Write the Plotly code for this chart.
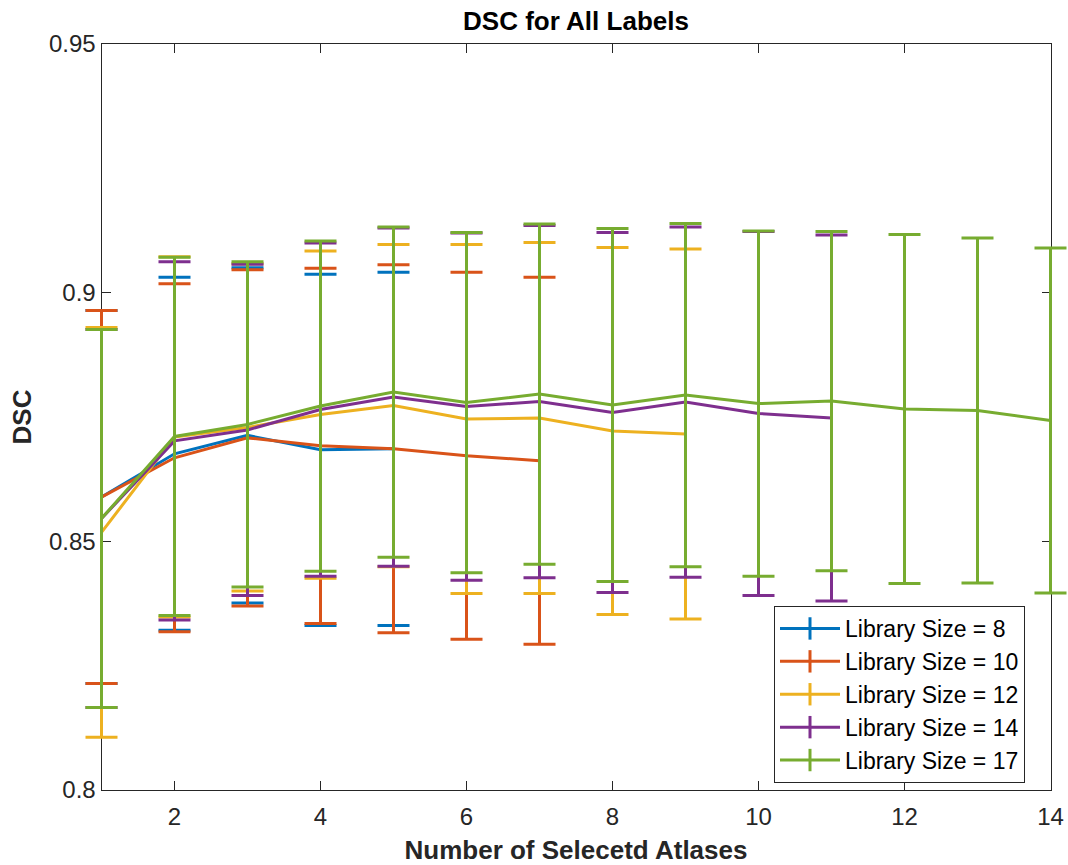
import plotly.graph_objects as go

# ---- data ----
lib_names = ["Library Size = 8", "Library Size = 10", "Library Size = 12",
             "Library Size = 14", "Library Size = 17"]
colors = ["#0072BD", "#D95319", "#EDB120", "#7E2F8E", "#77AC30"]

x_8 = [1, 2, 3, 4, 5]
dsc_8 = [0.8589, 0.8676, 0.8713, 0.8684, 0.8686]
err_8 = [0.0375, 0.0355, 0.0337, 0.0353, 0.0355]

x_10 = [1, 2, 3, 4, 5, 6, 7]
dsc_10 = [0.8589, 0.8668, 0.8708, 0.8692, 0.8686, 0.8672, 0.8662]
err_10 = [0.0375, 0.0350, 0.0338, 0.0357, 0.0370, 0.0369, 0.0369]

x_12 = [1, 2, 3, 4, 5, 6, 7, 8, 9]
dsc_12 = [0.8518, 0.8710, 0.8729, 0.8755, 0.8773, 0.8746, 0.8748, 0.8722, 0.8716]
err_12 = [0.0412, 0.0362, 0.0329, 0.0329, 0.0324, 0.0351, 0.0353, 0.0369, 0.0372]

x_14 = [1, 2, 3, 4, 5, 6, 7, 8, 9, 10, 11]
dsc_14 = [0.8546, 0.8702, 0.8724, 0.8765, 0.8790, 0.8771, 0.8781, 0.8759, 0.8780, 0.8757, 0.8748]
err_14 = [0.0380, 0.0360, 0.0333, 0.0335, 0.0340, 0.0349, 0.0354, 0.0362, 0.0352, 0.0366, 0.0368]

x_17 = [1, 2, 3, 4, 5, 6, 7, 8, 9, 10, 11, 12, 13, 14]
dsc_17 = [0.8546, 0.8711, 0.8735, 0.8772, 0.8800, 0.8779, 0.8796, 0.8774, 0.8794,
          0.8777, 0.8782, 0.8766, 0.8763, 0.8743]
err_17 = [0.0380, 0.0360, 0.0327, 0.0332, 0.0332, 0.0342, 0.0342, 0.0355, 0.0345,
          0.0347, 0.0341, 0.0351, 0.0347, 0.0347]

x_ticks = [2, 4, 6, 8, 10, 12, 14]
y_ticks = [0.8, 0.85, 0.9, 0.95]
y_tick_text = ["0.8", "0.85", "0.9", "0.95"]

series = [(x_8, dsc_8, err_8), (x_10, dsc_10, err_10), (x_12, dsc_12, err_12),
          (x_14, dsc_14, err_14), (x_17, dsc_17, err_17)]

FONT = "Liberation Sans, Arial, Helvetica, sans-serif"
AX = "#262626"

# geometry: visible axes box spans pixels 101.5 .. 1050.5 (x = 1 .. 14);
# data are drawn on a hidden, wider x-axis so the end caps are not clipped.
W, H = 1068, 865
ML, MR, MT, MB = 76, 0, 44, 75
PW = W - ML - MR
px_left, px_right = 101.5, 1050.5
ppu = (px_right - px_left) / 13.0
dom0 = (px_left - ML) / PW
dom1 = (px_right - ML) / PW
x2_min = 1 - (px_left - ML) / ppu
x2_max = 14 + (W - MR - px_right) / ppu

fig = go.Figure()
for (xs, ys, es), name, c in zip(series, lib_names, colors):
    fig.add_trace(go.Scatter(
        x=xs, y=ys, mode="lines", name=name, showlegend=False,
        xaxis="x2", yaxis="y",
        line=dict(color=c, width=3),
        error_y=dict(type="data", array=es, visible=True, color=c,
                     thickness=3, width=16),
        cliponaxis=False,
    ))

# legend entries (I-beam icons like MATLAB errorbar legend)
for name, c in zip(lib_names, colors):
    fig.add_trace(go.Scatter(
        x=[None], y=[None], mode="lines+markers", name=name,
        xaxis="x", yaxis="y",
        line=dict(color=c, width=3),
        marker=dict(symbol="line-ns", size=18, color=c, line=dict(color=c, width=3)),
    ))

leg_x = (774 - ML) / PW
leg_y = (H - MB - 606) / (H - MT - MB)

fig.update_layout(
    width=W, height=H,
    margin=dict(l=ML, r=MR, t=MT, b=MB, autoexpand=False),
    paper_bgcolor="white", plot_bgcolor="rgba(0,0,0,0)",
    font=dict(family=FONT, size=24, color=AX),
    title=dict(text="<b>DSC for All Labels</b>", x=576 / W, xanchor="center",
               xref="container", y=1 - 21 / H, yanchor="middle", yref="container",
               font=dict(family=FONT, size=26, color="black")),
    showlegend=True,
    legend=dict(x=leg_x, y=leg_y, xanchor="left", yanchor="top",
                bgcolor="white", bordercolor=AX, borderwidth=1,
                font=dict(family=FONT, size=23, color="black"),
                itemwidth=60, tracegroupgap=0),
    xaxis=dict(
        domain=[dom0, dom1], automargin=False,
        range=[1, 14], tickvals=x_ticks, ticks="inside", ticklen=9, tickcolor=AX,
        showline=True, linecolor=AX, linewidth=1, mirror="ticks",
        showgrid=False, zeroline=False, anchor="y",
        tickfont=dict(family=FONT, size=24, color=AX),
        ticklabelstandoff=5,
        title=dict(text="<b>Number of Selecetd Atlases</b>", standoff=12,
                   font=dict(family=FONT, size=26, color=AX)),
    ),
    xaxis2=dict(
        domain=[0, 1], range=[x2_min, x2_max], visible=False, anchor="y",
        showgrid=False, zeroline=False, automargin=False,
    ),
    yaxis=dict(
        range=[0.8, 0.95], tickvals=y_ticks, ticktext=y_tick_text,
        ticks="inside", ticklen=9, tickcolor=AX, anchor="x", automargin=False,
        showline=True, linecolor=AX, linewidth=1, mirror="ticks",
        showgrid=False, zeroline=False,
        tickfont=dict(family=FONT, size=24, color=AX),
        title=dict(text="<b>DSC</b>", standoff=9,
                   font=dict(family=FONT, size=26, color=AX)),
    ),
)

fig.write_html("out.html")
